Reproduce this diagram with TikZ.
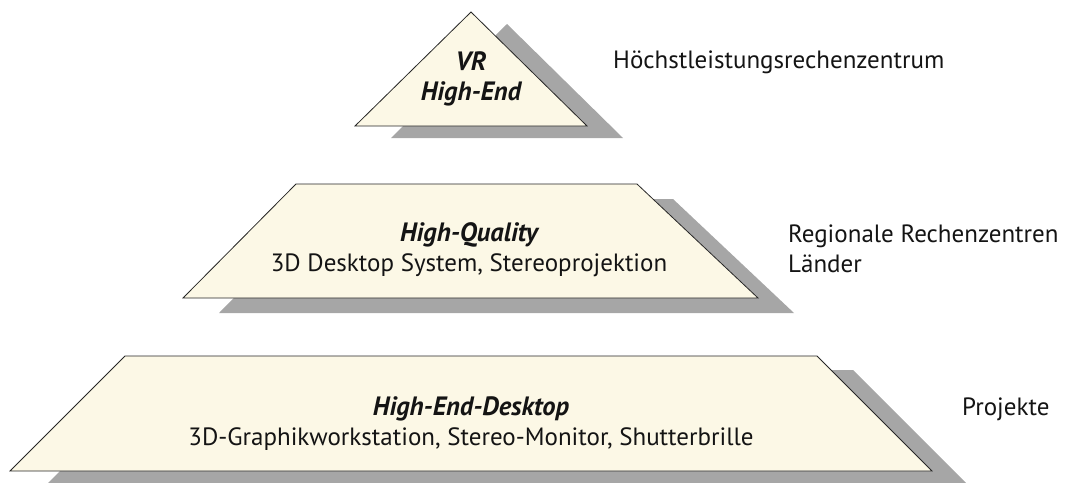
\documentclass[tikz,border=0pt]{standalone}
\usepackage{fontspec}
\setmainfont{PT Sans}
\begin{document}
\begin{tikzpicture}[x=1pt,y=-1pt,
  level/.style={fill=cream,draw=black!85,line width=0.8pt,line join=miter},
  shade/.style={fill=shadowgray,draw=none},
  body/.style={font=\fontsize{25}{30}\selectfont,inner sep=0pt,anchor=base,text=black!92},
  title/.style={body,font=\fontsize{26.5}{30}\selectfont\bfseries\itshape},
  side/.style={font=\fontsize{25}{30}\selectfont,inner sep=0pt,anchor=base west,text=black!92}]
\definecolor{cream}{HTML}{FCF8E6}
\definecolor{shadowgray}{HTML}{A6A6A6}
\useasboundingbox (0,0) rectangle (1067,482);
\clip (0,0) rectangle (1067,482);

% top tier: triangle
\begin{scope}[shift={(36,12)}]
  \fill[shade] (471,12) -- (587,126) -- (355,126) -- cycle;
\end{scope}
\draw[level] (471,12) -- (587,126) -- (355,126) -- cycle;

% middle tier
\begin{scope}[shift={(36,15)}]
  \fill[shade] (296,184) -- (637,184) -- (758,298) -- (183,298) -- cycle;
\end{scope}
\draw[level] (296,184) -- (637,184) -- (758,298) -- (183,298) -- cycle;

% bottom tier
\begin{scope}[shift={(36,14)}]
  \fill[shade] (125,356) -- (817,356) -- (932,471) -- (10,471) -- cycle;
\end{scope}
\draw[level] (125,356) -- (817,356) -- (932,471) -- (10,471) -- cycle;

% labels inside the tiers
\node[title] (vr) at (471,70) {VR};
\node[title] (vrhe) at (471,100) {High-End};
\node[title] (hq) at (469,241) {High-Quality};
\node[body] (hqsub) at (469,271) {3D Desktop System, Stereoprojektion};
\node[title] (hed) at (471,415) {High-End-Desktop};
\node[body] (hedsub) at (471,445) {3D-Graphikworkstation, Stereo-Monitor, Shutterbrille};

% labels beside the tiers
\node[side] (hlrz) at (613,68) {Höchstleistungsrechenzentrum};
\node[side] (rrz) at (788,242) {Regionale Rechenzentren};
\node[side] (land) at (788,272) {Länder};
\node[side] (proj) at (962,415) {Projekte};
\end{tikzpicture}
\end{document}
